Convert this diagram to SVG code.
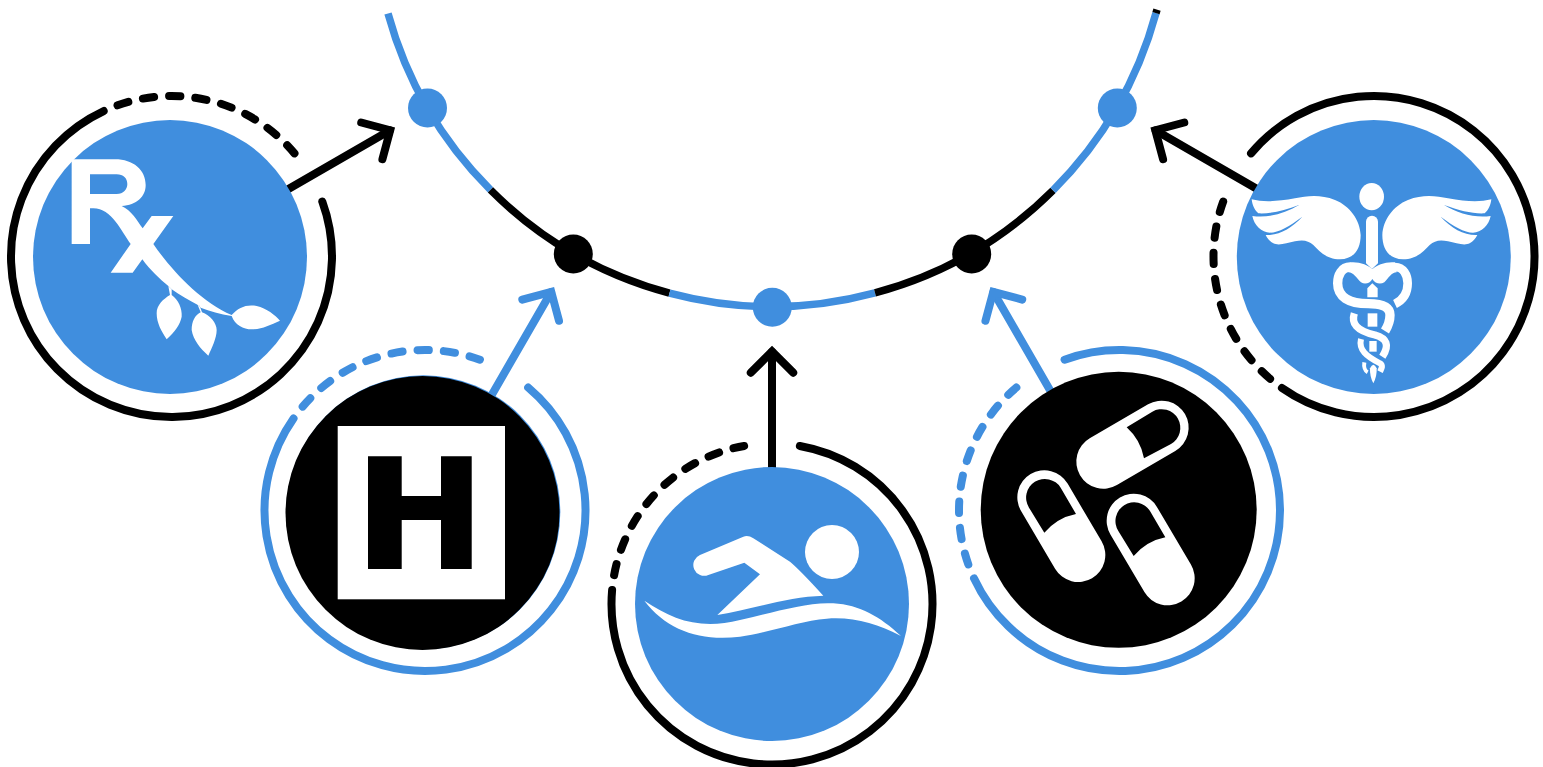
<svg xmlns="http://www.w3.org/2000/svg" xmlns:xlink="http://www.w3.org/1999/xlink" width="1543" height="767" viewBox="0 0 1543 767">
<style>
.k{stroke:#000}.b{stroke:#408EDE}
.line,.ring,.arrow{fill:none;stroke-width:8}
.line{stroke-width:7.5}
.ring,.arrow{stroke-linecap:round}
.fb{fill:#408EDE}.fk{fill:#000}.w{fill:#fff}
.s{fill:none;stroke:#fff;stroke-linecap:butt}
</style>
<defs>
<g id="ring" class="ring">
<path d="M158.06 27.87A160.5 160.5 0 1 1 13.99 -159.89"/>
<path d="M13.99 -159.89A160.5 160.5 0 0 1 158.06 -27.87" stroke-dasharray="11.3 15" stroke-dashoffset="11.3"/>
</g>
<g id="arrow" class="arrow">
<path d="M130 0H252"/>
<path d="M231.3 -21.2L252.5 0L231.3 21.2" stroke-linejoin="miter"/>
</g>
<g id="capsule">
<path d="M283 472L385 645" stroke="#fff" stroke-width="162" stroke-linecap="round" fill="none"/>
<path class="fk" d="M378 522L332 443A56 56 0 0 0 237 503L283 578Q322 533 378 522Z"/>
</g>
<path id="wing" class="w" d="M35 88C70 97 110 95 165 85C200 78 240 72 285 90C330 108 360 150 362 195C362 240 340 267 300 268C260 268 240 245 220 225C205 212 190 208 165 214C140 220 115 228 100 220C90 215 82 205 77 195C115 197 155 175 187 140C150 168 115 188 90 188C65 188 42 165 37 138C85 145 135 130 177 105C130 122 90 132 55 130C42 118 37 105 35 88Z"/>
</defs>
<g id="connectors">
<g id="curve" class="line">
<path class="b" d="M388 13.5A398 398 0 0 0 490.5 189.9"/>
<path class="k" d="M490.5 189.9A398 398 0 0 0 669.5 293.1"/>
<path class="b" d="M669.5 293.1A398 398 0 0 0 875 292.9"/>
<path class="k" d="M875 292.9A398 398 0 0 0 1053 190.4"/>
<path class="b" d="M1053 190.4A398 398 0 0 0 1156 13.1"/>
<path class="k" d="M1156 13.1L1157 9.6"/>
</g>
<use href="#arrow" xlink:href="#arrow" class="k" transform="translate(171.5 256.5) rotate(-30)"/>
<use href="#arrow" xlink:href="#arrow" class="b" transform="translate(425 510.5) rotate(-60)"/>
<use href="#arrow" xlink:href="#arrow" class="k" transform="translate(772 604) rotate(-90)"/>
<use href="#arrow" xlink:href="#arrow" class="b" transform="translate(1119.5 510.5) rotate(-120)"/>
<use href="#arrow" xlink:href="#arrow" class="k" transform="translate(1374 256.5) rotate(-150)"/>
</g>
<g id="dot-1"><circle class="fb" cx="427.5" cy="108" r="19.5"/></g>
<g id="dot-2"><circle class="fk" cx="573.3" cy="254" r="19.5"/></g>
<g id="dot-3"><circle class="fb" cx="772.3" cy="307.3" r="19.5"/></g>
<g id="dot-4"><circle class="fk" cx="971.7" cy="254" r="19.5"/></g>
<g id="dot-5"><circle class="fb" cx="1117.3" cy="108" r="19.5"/></g>
<g id="node-rx">
<use href="#ring" xlink:href="#ring" class="k" transform="translate(171.5 256.5) rotate(-30)"/>
<circle class="fb" cx="170" cy="257" r="137"/>
<g transform="translate(0 80) scale(.33333)">
<path class="w" fill-rule="evenodd" d="M215 238H345C400 238 437 270 437 315C437 350 410 375 365 378C395 392 410 420 428 445L455 408H520L460 492C510 565 600 665 695 705C715 682 740 672 770 678C800 685 825 705 840 722C810 735 785 748 755 748C730 748 705 735 695 708C660 703 630 693 602 683L598 677C565 660 540 645 515 628L505 618C480 598 450 570 427 538L398 578H332L392 492C365 455 335 385 280 385H270V492H215ZM270 283V342H350C370 342 382 328 382 312C382 295 370 283 350 283Z"/>
<path class="w" d="M505 618L515 628L515 645C535 660 547 685 545 710C540 735 525 755 500 778C485 755 470 730 470 700C470 675 490 657 510 645Z"/>
<path class="w" d="M592 672L600 680L606 697C630 705 650 730 650 750C650 775 635 805 625 827C600 805 580 780 575 750C575 725 585 705 602 697Z"/>
</g>
</g>
<g id="node-hospital">
<use href="#ring" xlink:href="#ring" class="b" transform="translate(425 510.5) rotate(-60)"/>
<circle class="fb" cx="423.3" cy="512.3" r="137"/>
<circle class="fk" cx="422.5" cy="513" r="137"/>
<rect class="w" x="337.7" y="426" width="167.3" height="173.3"/>
<path class="fk" d="M368 456.3H401.7V496H441V456.3H471.7V569H441V520H401.7V569H368Z"/>
</g>
<g id="node-swim">
<use href="#ring" xlink:href="#ring" class="k" transform="translate(772 604) rotate(-90)"/>
<circle class="fb" cx="772" cy="604" r="137"/>
<g transform="translate(600 430) scale(.33333)">
<circle class="w" cx="696" cy="366" r="81"/>
<path class="w" d="M300 375L430 320Q445 315 460 325L570 395Q600 420 670 497C560 500 450 540 352 555L480 433L433 398L325 435A32.5 32.5 0 0 1 300 375Z"/>
<path class="w" d="M133 512C220 570 300 600 420 570C520 548 620 515 700 520C780 525 840 560 903 618C830 580 760 560 680 566C600 572 500 610 420 620C300 635 200 600 133 512Z"/>
</g>
</g>
<g id="node-pills">
<use href="#ring" xlink:href="#ring" class="b" transform="translate(1119.5 510.5) rotate(-120)"/>
<circle class="fk" cx="1118.7" cy="509.8" r="138"/>
<g transform="translate(950 340) scale(.33333)">
<use href="#capsule" xlink:href="#capsule"/>
<use href="#capsule" xlink:href="#capsule" transform="translate(268 70)"/>
<path d="M460 365L635 263" stroke="#fff" stroke-width="162" stroke-linecap="round" fill="none"/>
<path class="fk" d="M530 262L607 215A56 56 0 0 1 663 312L582 355Q572 300 530 262Z"/>
</g>
</g>
<g id="node-caduceus">
<use href="#ring" xlink:href="#ring" class="k" transform="translate(1374 256.5) rotate(-150)"/>
<circle class="fb" cx="1373.8" cy="257" r="137"/>
<g transform="translate(1240 170) scale(.33333)">
<ellipse class="w" cx="395" cy="80" rx="37" ry="41"/>
<path class="w" d="M378 155A18 18 0 0 1 414 155V280L396 297L378 280Z"/>
<use href="#wing" xlink:href="#wing"/>
<use href="#wing" xlink:href="#wing" transform="translate(789 0) scale(-1 1)"/>
</g>
<g transform="translate(1325 255) scale(.33333)">
<path class="w" d="M127 100L142 85L158 100V127H127Z"/>
<path class="w" d="M128 175H157V215H128Z"/>
<path class="w" d="M133 258H155V290H133Z"/>
<path class="w" d="M135 340Q145 318 155 340Q156 365 145 385Q134 365 135 340Z"/>
<path class="w" d="M75 22C100 22 120 25 142 42C165 25 185 22 210 22L215 52C200 52 190 70 178 82C165 90 150 85 142 72C135 85 120 90 108 82C95 70 85 52 70 52Z"/>
<path class="s" stroke-width="28" d="M76 36C50 36 38 60 38 85C38 125 70 146 130 146C170 146 195 155 195 180C195 200 188 215 180 228"/>
<path class="s" stroke-width="26" d="M210 36C235 36 248 60 248 85C248 115 235 135 210 147"/>
<path class="s" stroke-width="22" d="M88 175C78 205 95 228 150 240C185 250 195 270 172 305"/>
<path class="s" stroke-width="18" d="M108 252C100 285 125 305 165 325C175 332 170 340 165 350"/>
<path class="s" stroke-width="12" d="M118 322C116 335 120 348 128 352"/>
</g>
</g>
</svg>
